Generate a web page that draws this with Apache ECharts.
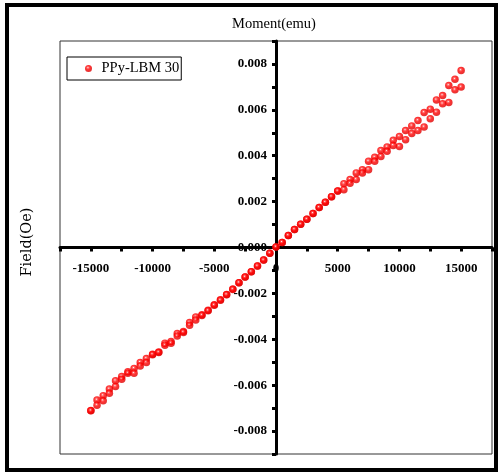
<!DOCTYPE html>
<html>
<head>
<meta charset="utf-8">
<script src="https://cdn.jsdelivr.net/npm/echarts@6/dist/echarts.min.js"></script>
<style>
  html, body { margin: 0; padding: 0; background: #fff; }
  #chart { width: 500px; height: 473px; }
</style>
</head>
<body>
<div id="chart"></div>
<script>
// applied field (Oe), one row per measured point
var field = [
  -15000, -14500, -14000, -13500, -13000, -12500, -12000, -11500, -11000, -10500,
  -10000, -9500, -9000, -8500, -8000, -7500, -7000, -6500, -6000, -5500,
  -5000, -4500, -4000, -3500, -3000, -2500, -2000, -1500, -1000, -500,
  0, 500, 1000, 1500, 2000, 2500, 3000, 3500, 4000, 4500,
  5000, 5500, 6000, 6500, 7000, 7500, 8000, 8500, 9000, 9500,
  10000, 10500, 11000, 11500, 12000, 12500, 13000, 13500, 14000, 14500, 15000
];
// moment (emu), upper branch
var momentUp = [
  -0.00710, -0.00665, -0.00646, -0.00617, -0.00581, -0.00562, -0.00542, -0.00527, -0.00501, -0.00484,
  -0.00465, -0.00455, -0.00417, -0.00410, -0.00375, -0.00366, -0.00327, -0.00303, -0.00293, -0.00273,
  -0.00250, -0.00228, -0.00205, -0.00181, -0.00154, -0.00129, -0.00106, -0.00081, -0.00055, -0.00025,
  0.00002, 0.00022, 0.00052, 0.00078, 0.00101, 0.00123, 0.00148, 0.00174, 0.00197, 0.00221,
  0.00246, 0.00278, 0.00296, 0.00325, 0.00339, 0.00376, 0.00393, 0.00423, 0.00438, 0.00467,
  0.00484, 0.00510, 0.00530, 0.00553, 0.00588, 0.00603, 0.00643, 0.00662, 0.00706, 0.00733, 0.00771
];
// moment (emu), lower branch
var momentDown = [
  -0.00712, -0.00687, -0.00668, -0.00635, -0.00606, -0.00574, -0.00548, -0.00548, -0.00516, -0.00501,
  -0.00467, -0.00458, -0.00426, -0.00417, -0.00386, -0.00370, -0.00339, -0.00316, -0.00296, -0.00276,
  -0.00252, -0.00230, -0.00206, -0.00183, -0.00154, -0.00129, -0.00106, -0.00081, -0.00055, -0.00025,
  0.00002, 0.00022, 0.00052, 0.00078, 0.00101, 0.00123, 0.00148, 0.00174, 0.00197, 0.00221,
  0.00246, 0.00252, 0.00280, 0.00296, 0.00325, 0.00339, 0.00376, 0.00397, 0.00419, 0.00445,
  0.00440, 0.00470, 0.00497, 0.00510, 0.00525, 0.00561, 0.00590, 0.00626, 0.00632, 0.00687, 0.00699
];
var seriesName = 'PPy-LBM 30';

var pts = [];
for (var i = 0; i < field.length; i++) {
  pts.push([field[i], momentUp[i]]);
  pts.push([field[i], momentDown[i]]);
}

var sphere = {
  type: 'radial', x: 0.42, y: 0.38, r: 0.65,
  colorStops: [
    { offset: 0, color: '#ffffff' },
    { offset: 0.18, color: '#ff5050' },
    { offset: 0.45, color: '#ff0000' },
    { offset: 1, color: '#d80000' }
  ]
};

var serif = '"Liberation Serif", "Times New Roman", serif';

// grid box: left 60, right 8, top 41, bottom 19 -> 432 x 413
var gridW = 432, gridH = 413;

var myChart = echarts.init(document.getElementById('chart'), null, { renderer: 'canvas' });
myChart.setOption({
  animation: false,
  backgroundColor: '#fff',
  grid: {
    left: 60, right: 8, top: 41, bottom: 19,
    show: true, borderColor: '#333', borderWidth: 1
  },
  legend: {
    data: [seriesName],
    left: 67, top: 57,
    icon: 'circle',
    itemWidth: 16, itemHeight: 7,
    padding: [4, 2, 4, 18],
    borderColor: '#000', borderWidth: 1, borderRadius: 0,
    textStyle: { fontFamily: serif, fontSize: 14.5, color: '#000' }
  },
  xAxis: {
    type: 'value',
    position: 'bottom',
    offset: -gridH / 2,
    min: -17500, max: 17500, interval: 2500,
    splitLine: { show: false },
    axisLine: { onZero: false, lineStyle: { color: '#000', width: 3 } },
    axisTick: { length: 4, lineStyle: { color: '#000', width: 3 } },
    axisLabel: {
      margin: 15,
      fontFamily: serif, fontSize: 13, fontWeight: 'bold', color: '#000',
      formatter: function (v) { return Math.round(v) % 5000 === 0 ? String(Math.round(v)) : ''; }
    }
  },
  yAxis: {
    type: 'value',
    position: 'left',
    offset: -gridW / 2,
    min: -0.009, max: 0.009, interval: 0.001,
    splitLine: { show: false },
    axisLine: { onZero: false, lineStyle: { color: '#000', width: 3 } },
    axisTick: { length: 4, lineStyle: { color: '#000', width: 3 } },
    axisLabel: {
      margin: 9,
      fontFamily: serif, fontSize: 13, fontWeight: 'bold', color: '#000',
      formatter: function (v) {
        var k = Math.round(v * 1000);
        return k % 2 === 0 ? (k / 1000).toFixed(3) : '';
      }
    }
  },
  series: [{
    name: seriesName,
    type: 'scatter',
    symbol: 'circle',
    symbolSize: 7.5,
    itemStyle: { color: sphere },
    data: pts
  }],
  graphic: [
    {
      type: 'rect',
      shape: { x: 7, y: 5, width: 489, height: 465 },
      style: { fill: null, stroke: '#000', lineWidth: 4 }
    },
    {
      type: 'text', x: 274, y: 24,
      style: { text: 'Moment(emu)', font: '14.5px ' + serif, fill: '#000', textAlign: 'center', textVerticalAlign: 'middle' }
    },
    {
      type: 'text', x: 27, y: 242, rotation: Math.PI / 2,
      style: { text: 'Field(Oe)', font: '14.5px "DejaVu Serif", serif', fill: '#000', textAlign: 'center', textVerticalAlign: 'middle' }
    }
  ]
});
</script>
</body>
</html>
